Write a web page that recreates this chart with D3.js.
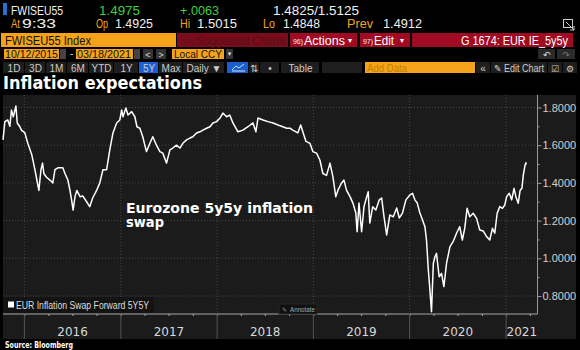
<!DOCTYPE html>
<html><head><meta charset="utf-8">
<script src="https://cdn.jsdelivr.net/npm/d3@7"></script>
<style>
html,body{margin:0;padding:0;background:#000;}
svg{display:block;}
text{font-family:"Liberation Sans","DejaVu Sans",sans-serif;}
</style></head>
<body>
<svg id="c" width="580" height="350"></svg>
<script>
// ---- data ----
const dates = ["2015-10-12","2015-10-19","2015-10-30","2015-11-07","2015-11-13","2015-11-20","2015-11-30","2015-12-05","2015-12-15","2015-12-21",
"2016-01-03","2016-01-14","2016-01-29","2016-02-10","2016-02-16","2016-02-25","2016-03-04","2016-03-10","2016-03-15","2016-03-25",
"2016-04-07","2016-04-18","2016-04-26","2016-05-07","2016-05-26","2016-06-03","2016-06-14","2016-06-22","2016-06-28","2016-07-04",
"2016-07-11","2016-07-18","2016-07-30","2016-08-10","2016-08-24","2016-09-05","2016-09-16","2016-10-01","2016-10-13","2016-10-25",
"2016-11-08","2016-11-20","2016-12-02","2016-12-16","2016-12-28","2017-01-04","2017-01-09","2017-01-20","2017-01-28","2017-02-11",
"2017-02-23","2017-03-03","2017-03-14","2017-03-25","2017-04-08","2017-04-21","2017-05-02","2017-05-16","2017-05-29","2017-06-09",
"2017-06-23","2017-07-06","2017-07-17","2017-07-31","2017-08-13","2017-08-24","2017-09-07","2017-09-20","2017-10-01","2017-10-15",
"2017-10-28","2017-11-08","2017-11-22","2017-12-05","2017-12-16","2017-12-30","2018-01-12","2018-01-23","2018-02-06","2018-02-18",
"2018-03-02","2018-03-21","2018-04-09","2018-04-28","2018-05-17","2018-05-28","2018-06-05","2018-06-24","2018-07-13","2018-08-01",
"2018-08-20","2018-09-07","2018-09-22","2018-10-04","2018-10-15","2018-11-03","2018-11-14","2018-11-22","2018-12-04","2018-12-19",
"2018-12-30","2019-01-13","2019-01-26","2019-02-06","2019-02-20","2019-03-05","2019-03-16","2019-03-27","2019-04-04","2019-04-18",
"2019-04-27","2019-05-07","2019-05-20","2019-05-31","2019-06-11","2019-06-16","2019-06-23","2019-07-03","2019-07-12","2019-07-19",
"2019-07-28","2019-08-03","2019-08-14","2019-08-26","2019-09-08","2019-09-17","2019-09-26","2019-10-06","2019-10-18","2019-10-31",
"2019-11-13","2019-11-23","2019-12-05","2019-12-18","2020-01-02","2020-01-12","2020-01-21","2020-01-30","2020-02-09","2020-02-19",
"2020-02-28","2020-03-05","2020-03-12","2020-03-18","2020-03-24","2020-03-31","2020-04-06","2020-04-12","2020-04-22","2020-05-01",
"2020-05-10","2020-05-20","2020-06-02","2020-06-14","2020-06-27","2020-07-09","2020-07-19","2020-07-28","2020-08-06","2020-08-16",
"2020-08-29","2020-09-11","2020-09-23","2020-10-06","2020-10-19","2020-10-31","2020-11-10","2020-11-19","2020-11-28","2020-12-08",
"2020-12-18","2020-12-27","2021-01-03","2021-01-13","2021-01-22","2021-01-31","2021-02-07","2021-02-16","2021-02-23","2021-03-02",
"2021-03-07","2021-03-14","2021-03-17","2021-03-18"];
const swapValues = [1.628,1.725,1.734,1.700,1.787,1.751,1.808,1.718,1.698,1.680,
1.665,1.610,1.550,1.470,1.426,1.360,1.470,1.505,1.450,1.430,
1.415,1.400,1.470,1.480,1.480,1.450,1.415,1.360,1.310,1.256,
1.327,1.360,1.327,1.330,1.300,1.274,1.320,1.360,1.400,1.470,
1.470,1.575,1.665,1.718,1.734,1.787,1.751,1.797,1.760,1.778,
1.751,1.698,1.690,1.645,1.566,1.610,1.645,1.600,1.566,1.558,
1.505,1.575,1.585,1.600,1.585,1.610,1.628,1.638,1.645,1.665,
1.671,1.680,1.690,1.698,1.718,1.725,1.744,1.770,1.751,1.760,
1.718,1.671,1.680,1.698,1.718,1.671,1.744,1.734,1.725,1.718,
1.707,1.698,1.690,1.690,1.680,1.665,1.707,1.671,1.620,1.610,
1.566,1.558,1.520,1.450,1.440,1.505,1.433,1.327,1.360,1.400,
1.415,1.360,1.327,1.293,1.240,1.141,1.293,1.141,1.274,1.310,
1.353,1.187,1.274,1.256,1.310,1.320,1.220,1.124,1.230,1.220,
1.267,1.214,1.240,1.310,1.336,1.345,1.310,1.293,1.240,1.203,
1.168,1.097,0.938,0.832,0.717,0.973,1.008,1.026,0.902,0.920,
0.850,0.973,1.062,1.088,1.133,1.168,1.097,1.159,1.265,1.220,
1.239,1.212,1.150,1.145,1.115,1.097,1.159,1.133,1.239,1.274,
1.265,1.283,1.327,1.345,1.310,1.371,1.327,1.292,1.360,1.371,
1.440,1.495,1.507,1.4975];
const yTicks = [0.8,1.0,1.2,1.4,1.6,1.8];
const yMinorTicks = [0.9,1.1,1.3,1.5,1.7];
const yearLabels = ["2016","2017","2018","2019","2020","2021"];
const dateRange = ["2015-10-12","2021-04-30"];
const seriesName = "EUR Inflation Swap Forward 5Y5Y";

// ---- setup ----
const svg = d3.select("#c");
const parse = d3.timeParse("%Y-%m-%d");
const data = dates.map((d,i)=>({date:parse(d), v:swapValues[i]}));

function txt(x,y,s,o={}){
  const t = svg.append("text").attr("x",x).attr("y",y).text(s)
    .attr("font-size",o.size||11).attr("fill",o.fill||"#ddd")
    .attr("font-weight",o.weight||"normal");
  if(o.anchor) t.attr("text-anchor",o.anchor);
  if(o.w) t.attr("textLength",o.w).attr("lengthAdjust","spacingAndGlyphs");
  if(o.family) t.style("font-family",o.family);
  return t;
}
function box(x,y,w,h,fill,stroke){
  const r = svg.append("rect").attr("x",x).attr("y",y).attr("width",w).attr("height",h).attr("fill",fill);
  if(stroke) r.attr("stroke",stroke).attr("stroke-width",1);
  return r;
}

const ORANGE="#f5a31a", GREEN="#3fcf3f", RED="#a00a22", DRED="#7a0c1c", WHITE="#f0f0f0";

// ---- header row 1 ----
box(3,3,4,12,"#2a6fd6");
txt(11,15,"FWISEU55",{size:13,fill:WHITE,w:52});
txt(99,15,"1.4975",{size:13,fill:GREEN,w:41});
txt(180,15,"+.0063",{size:13,fill:GREEN,w:39});
txt(273,15,"1.4825/1.5125",{size:13,fill:WHITE,w:86});
// row 2
txt(11,28,"At",{size:12,fill:ORANGE,w:9});
txt(22,28,"9:33",{size:12,fill:WHITE,w:34});
txt(96,28,"Op",{size:12,fill:ORANGE,w:12});
txt(115,28,"1.4925",{size:12,fill:WHITE,w:38});
txt(180,28,"Hi",{size:12,fill:ORANGE,w:10});
txt(197,28,"1.5015",{size:12,fill:WHITE,w:40});
txt(263,28,"Lo",{size:12,fill:ORANGE,w:12});
txt(283,28,"1.4848",{size:12,fill:WHITE,w:37});
txt(347,28,"Prev",{size:12,fill:ORANGE,w:26});
txt(383,28,"1.4912",{size:12,fill:WHITE,w:39});
// expand icon
svg.append("rect").attr("x",563.5).attr("y",19.5).attr("width",9).attr("height",8).attr("fill","none").attr("stroke","#ccc");
svg.append("path").attr("d","M566,22 L574,30 M574,26 L574,30 L570,30").attr("stroke","#ccc").attr("fill","none");

// ---- row 3 ----
box(1,33,175,14,ORANGE);
txt(5,44.5,"FWISEU55 Index",{size:12,fill:"#111",w:86});
box(177,33,111,14,DRED);
txt(182,44,"90)",{size:8,fill:"#551018",w:11});
txt(196,44.5,"Suggested Charts",{size:12,fill:"#551018",w:89});
box(290,33,67,14,RED);
txt(293,44,"96)",{size:8,fill:"#eee",w:10});
txt(304,44.5,"Actions",{size:12,fill:"#fff",w:41});
txt(348,43,"▾",{size:8,fill:"#fff"});
box(360,33,50,14,RED);
txt(363,44,"97)",{size:8,fill:"#eee",w:10});
txt(374,44.5,"Edit",{size:12,fill:"#fff",w:20});
txt(400,43,"▾",{size:8,fill:"#fff"});
box(412,33,161,14,RED);
txt(568,44.5,"G 1674: EUR IE_5y5y",{size:12,fill:"#fff",anchor:"end",w:107});

// ---- row 4 ----
box(4,49,55,10,ORANGE);
txt(5,58,"10/12/2015",{size:11,fill:"#111",w:53});
box(60,49,6,10,"#444");
txt(70,57,"-",{size:10,fill:"#ddd"});
box(76,49,57,10,ORANGE);
txt(77,58,"03/18/2021",{size:11,fill:"#111",w:54});
box(134,49,6,10,"#444");
box(143,49,10,10,"#333");
txt(148,57.5,"<",{size:9,fill:"#ddd",anchor:"middle"});
box(156,49,10,10,"#333");
txt(161,57.5,">",{size:9,fill:"#ddd",anchor:"middle"});
box(172,49,52,10,ORANGE);
txt(174,58,"Local CCY",{size:11,fill:"#111",w:48});
box(226,49,7,10,"#333");
txt(229.5,56,"▾",{size:7,fill:"#ddd",anchor:"middle"});
box(538,49,17,10,"#2a2a2a");
txt(546.5,57.5,"↶",{size:9,fill:"#ddd",anchor:"middle"});
box(557,49,18,10,"#2a2a2a");
txt(566,57.5,"↷",{size:9,fill:"#777",anchor:"middle"});

// ---- row 5 ----
const btns = [[3,25,"1D"],[25,46,"3D"],[46,67,"1M"],[67,89,"6M"],[89,114,"YTD"],[114,139,"1Y"],[139,159,"5Y"],[159,183,"Max"],[183,225,"Daily ▼"],[227,249,""],[249,260,"⇅"],[260,280,"•"],[281,320,"Table"],[322,363,""]];
btns.forEach(b=>{
  const f = b[2]==="5Y" ? "#1a5fd0" : (b[0]===227 ? "#1a5fd0" : "#1e1e1e");
  box(b[0],62,b[1]-b[0]-1,11,f);
  if(b[2]) txt((b[0]+b[1])/2,71.5,b[2],{size:10,fill:"#ccc",anchor:"middle"});
});
svg.append("path").attr("d","M232,70 L236,66 L239,68 L244,64 M232,71 L245,71").attr("stroke","#cfe0ff").attr("fill","none");
box(365,62,110,11,ORANGE);
txt(367,71.5,"Add Data",{size:10,fill:"#c47f00",w:40});
box(476,62,14,11,"#1e1e1e");
txt(483,71.5,"«",{size:10,fill:"#ccc",anchor:"middle"});
box(491,62,56,11,"#1e1e1e");
txt(494,71.5,"✎ Edit Chart",{size:10,fill:"#ccc",w:50});
box(548,62,14,11,"#1e1e1e");
txt(555,71.5,"☑",{size:9,fill:"#ccc",anchor:"middle"});
box(563,62,14,11,"#1e1e1e");
txt(570,71.5,"⚙",{size:9,fill:"#ccc",anchor:"middle"});

// ---- title ----
txt(3,89,"Inflation expectations",{size:18,fill:"#fff",weight:"bold",w:199,family:"'DejaVu Sans',sans-serif"});

// ---- panel ----
box(3,95,573,244,"#1b1b1b");

const pL=3, pR=537.5, pT=95, pB=314;
const x = d3.scaleTime().domain(dateRange.map(parse)).range([pL,pR]);
const y = d3.scaleLinear().domain([0.7045,1.8663]).range([pB,pT]);

const years = yearLabels.map(s=>parse(s+"-01-01"));

// grid
svg.append("g").selectAll("line").data(yTicks).join("line")
  .attr("x1",pL).attr("x2",pR).attr("y1",d=>y(d)).attr("y2",d=>y(d))
  .attr("stroke","#464646").attr("stroke-dasharray","1,2");
svg.append("g").selectAll("line").data(years).join("line")
  .attr("x1",d=>x(d)).attr("x2",d=>x(d)).attr("y1",pT).attr("y2",pB)
  .attr("stroke","#464646").attr("stroke-dasharray","1,2");

// y axis (right)
const yAxis = d3.axisRight(y).tickValues(yTicks).tickFormat(d3.format(".4f")).tickSize(4).tickPadding(1);
const ga = svg.append("g").attr("transform",`translate(${pR},0)`).call(yAxis);
ga.select(".domain").attr("stroke","#9a9a9a").attr("d",`M0,${pT}V${pB}`);
ga.selectAll(".tick line").attr("stroke","#9a9a9a");
ga.selectAll(".tick text").attr("fill","#d0d0d0").attr("font-size",11)
  .style("font-family","'Liberation Sans',sans-serif");
const gm = svg.append("g").attr("transform",`translate(${pR},0)`)
  .call(d3.axisRight(y).tickValues(yMinorTicks).tickFormat("").tickSize(2));
gm.select(".domain").remove();
gm.selectAll(".tick line").attr("stroke","#9a9a9a");

// x axis
const quarters = d3.timeMonth.every(3).range(parse("2015-10-12"), parse("2021-04-30"));
const gx = svg.append("g").attr("transform",`translate(0,${pB})`)
  .call(d3.axisBottom(x).tickValues(quarters).tickFormat("").tickSize(2));
gx.select(".domain").attr("stroke","#a8a8a8").attr("stroke-width",1.2).attr("d",`M${pL},0H${pR}`);
gx.selectAll(".tick line").attr("stroke","#a8a8a8");
svg.append("g").selectAll("line").data(years).join("line")
  .attr("x1",d=>x(d)).attr("x2",d=>x(d)).attr("y1",pB).attr("y2",339)
  .attr("stroke","#555");
const labelPos = years.map((d,i)=> (x(d) + (i<years.length-1 ? x(years[i+1]) : pR))/2);
svg.append("g").selectAll("text").data(yearLabels).join("text")
  .attr("x",(d,i)=>labelPos[i]).attr("y",336).attr("text-anchor","middle")
  .attr("font-size",12).attr("fill","#d8d8d8").style("font-family","'DejaVu Sans',sans-serif").text(d=>d);

// line
const line = d3.line().x(d=>x(d.date)).y(d=>y(d.v)).curve(d3.curveLinear);
svg.append("path").datum(data).attr("d",line).attr("fill","none")
  .attr("stroke","#ffffff").attr("stroke-width",1.5).attr("stroke-linejoin","round");

// legend
box(3,297,151,16,"#131313");
box(8,301.5,6,6,"#fff");
txt(16,309,seriesName,{size:10,fill:"#dcdcdc",w:133});

// annotate button
box(279,304,38,10,"#111","#262626");
txt(282,311.5,"✎",{size:6,fill:"#888"});
txt(290,311.5,"Annotate",{size:7,fill:"#aaa",w:25});

// chart annotation
txt(126,213,"Eurozone 5y5y inflation",{size:14,fill:"#fff",weight:"bold",w:187,family:"'DejaVu Sans',sans-serif"});
txt(126,226.5,"swap",{size:14,fill:"#fff",weight:"bold",w:38,family:"'DejaVu Sans',sans-serif"});

// source
txt(5,348,"Source: Bloomberg",{size:8,fill:"#fff",weight:"bold",w:68,family:"'DejaVu Sans',sans-serif"});
</script>
</body></html>
